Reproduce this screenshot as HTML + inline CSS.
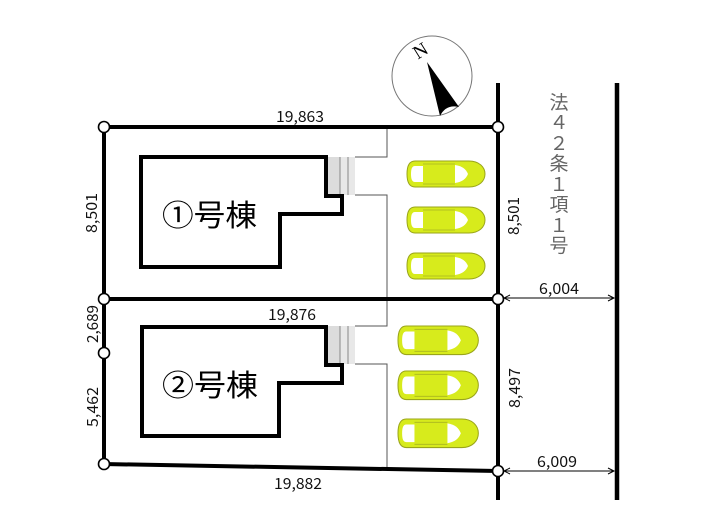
<!DOCTYPE html>
<html><head><meta charset="utf-8"><style>
html,body{margin:0;padding:0;background:#fff;}
svg{display:block;}
.d{font-family:"Noto Sans CJK JP","Liberation Sans",sans-serif;font-size:15px;fill:#111;}
</style></head><body>
<svg width="705" height="525" viewBox="0 0 705 525" xmlns="http://www.w3.org/2000/svg">
<rect width="705" height="525" fill="#fff"/>
<!-- compass -->
<circle cx="432" cy="76" r="40" fill="#fff" stroke="#777" stroke-width="1"/>
<path d="M427,62 L459,107 Q446,104 440,116 Z" fill="#000"/>
<text x="420" y="57" font-family="Liberation Serif, serif" font-size="19" fill="#000" text-anchor="middle" transform="rotate(-32 420 50)">N</text>

<!-- thin driveway lines -->
<g stroke="#555" stroke-width="1" fill="none">
<polyline points="387,127 387,157 355,157"/>
<polyline points="355,195 387,195 387,298"/>
<polyline points="387,298 387,326 355,326"/>
<polyline points="355,364 387,364 387,467"/>
</g>
<!-- stairs -->
<g>
<rect x="327" y="157" width="28" height="38" fill="#dcdcdc"/>
<rect x="340" y="157" width="15" height="38" fill="#e8e8e8"/>
<line x1="340" y1="157" x2="340" y2="195" stroke="#888" stroke-width="1"/>
<line x1="348" y1="157" x2="348" y2="195" stroke="#888" stroke-width="1"/>
<rect x="327" y="326" width="28" height="38" fill="#dcdcdc"/>
<rect x="340" y="326" width="15" height="38" fill="#e8e8e8"/>
<line x1="340" y1="326" x2="340" y2="364" stroke="#888" stroke-width="1"/>
<line x1="348" y1="326" x2="348" y2="364" stroke="#888" stroke-width="1"/>
</g>

<!-- buildings -->
<g stroke="#000" stroke-width="4" fill="none" stroke-linejoin="miter">
<path d="M141,157 H326 V196 H342 V214 H280 V267 H141 Z"/>
<path d="M142,327 H326 V365 H342 V383 H279 V436 H142 Z"/>
</g>
<text x="162" y="226" font-family="Noto Sans CJK JP, sans-serif" font-size="30" fill="#000" textLength="95" lengthAdjust="spacingAndGlyphs">①号棟</text>
<text x="162" y="396" font-family="Noto Sans CJK JP, sans-serif" font-size="30" fill="#000" textLength="96" lengthAdjust="spacingAndGlyphs">②号棟</text>

<!-- lot boundaries -->
<g stroke="#000" stroke-width="4" fill="none">
<line x1="103" y1="127" x2="498" y2="127"/>
<line x1="104" y1="127" x2="104" y2="464"/>
<line x1="103" y1="299" x2="498" y2="299"/>
<line x1="103" y1="464" x2="498" y2="471"/>
<line x1="498" y1="83" x2="498" y2="500"/>
<line x1="617" y1="83" x2="617" y2="500" stroke-width="4.5"/>
</g>

<!-- dimension arrows -->
<g stroke="#000" stroke-width="1" fill="none">
<line x1="504" y1="298" x2="614" y2="298"/>
<polyline points="510,295 504,298 510,301"/>
<polyline points="608,295 614,298 608,301"/>
<line x1="504" y1="471" x2="614" y2="471"/>
<polyline points="510,468 504,471 510,474"/>
<polyline points="608,468 614,471 608,474"/>
</g>

<!-- corner circles -->
<g fill="#fff" stroke="#000" stroke-width="1.6">
<circle cx="104" cy="127" r="5.5"/>
<circle cx="498" cy="127" r="5.5"/>
<circle cx="104" cy="299" r="5.5"/>
<circle cx="498" cy="299" r="5.5"/>
<circle cx="104" cy="353" r="5.5"/>
<circle cx="104" cy="464" r="5.5"/>
<circle cx="498" cy="471" r="5.5"/>
</g>

<!-- dimension labels -->
<text class="d" x="276" y="122" textLength="48" lengthAdjust="spacingAndGlyphs">19,863</text>
<text class="d" x="268" y="320" textLength="48" lengthAdjust="spacingAndGlyphs">19,876</text>
<text class="d" x="274" y="489" textLength="48" lengthAdjust="spacingAndGlyphs">19,882</text>
<text class="d" x="539" y="294" textLength="40" lengthAdjust="spacingAndGlyphs">6,004</text>
<text class="d" x="537" y="467" textLength="40" lengthAdjust="spacingAndGlyphs">6,009</text>
<text class="d" transform="translate(97,233) rotate(-90)" textLength="40" lengthAdjust="spacingAndGlyphs">8,501</text>
<text class="d" transform="translate(98,343) rotate(-90)" textLength="38" lengthAdjust="spacingAndGlyphs">2,689</text>
<text class="d" transform="translate(98,427) rotate(-90)" textLength="40" lengthAdjust="spacingAndGlyphs">5,462</text>
<text class="d" transform="translate(519,235) rotate(-90)" textLength="38" lengthAdjust="spacingAndGlyphs">8,501</text>
<text class="d" transform="translate(520,408) rotate(-90)" textLength="40" lengthAdjust="spacingAndGlyphs">8,497</text>

<!-- road label vertical -->
<g font-family="Noto Sans CJK JP, sans-serif" font-size="19" fill="#666" text-anchor="middle">
<text x="559" y="109">法</text>
<text x="559" y="129">４</text>
<text x="559" y="150">２</text>
<text x="559" y="170">条</text>
<text x="559" y="191">１</text>
<text x="559" y="211">項</text>
<text x="559" y="232">１</text>
<text x="559" y="252">号</text>
</g>

<!-- cars -->
<g>
<g transform="translate(407,161)">
<path d="M8,0 H62 C72,0 78,6 78,13 C78,20 72,26 62,26 H8 C3,26 0,22 0,13 C0,4 3,0 8,0 Z" fill="#d7eb1c" stroke="#9aa51a" stroke-width="1"/>
<path d="M8,5 H16 V21 H8 C5,21 4,18 4,13 C4,8 5,5 8,5 Z" fill="#fff"/>
<path d="M48,4 C55,5 59,8 61,13 C59,18 55,21 48,22 Z" fill="#fff"/>
<path d="M16,3 H48 M16,23 H48" stroke="#a8b420" stroke-width="0.8"/>
</g>
<g transform="translate(407,207)">
<path d="M8,0 H62 C72,0 78,6 78,13 C78,20 72,26 62,26 H8 C3,26 0,22 0,13 C0,4 3,0 8,0 Z" fill="#d7eb1c" stroke="#9aa51a" stroke-width="1"/>
<path d="M8,5 H16 V21 H8 C5,21 4,18 4,13 C4,8 5,5 8,5 Z" fill="#fff"/>
<path d="M48,4 C55,5 59,8 61,13 C59,18 55,21 48,22 Z" fill="#fff"/>
<path d="M16,3 H48 M16,23 H48" stroke="#a8b420" stroke-width="0.8"/>
</g>
<g transform="translate(407,253)">
<path d="M8,0 H62 C72,0 78,6 78,13 C78,20 72,26 62,26 H8 C3,26 0,22 0,13 C0,4 3,0 8,0 Z" fill="#d7eb1c" stroke="#9aa51a" stroke-width="1"/>
<path d="M8,5 H16 V21 H8 C5,21 4,18 4,13 C4,8 5,5 8,5 Z" fill="#fff"/>
<path d="M48,4 C55,5 59,8 61,13 C59,18 55,21 48,22 Z" fill="#fff"/>
<path d="M16,3 H48 M16,23 H48" stroke="#a8b420" stroke-width="0.8"/>
</g>
<g transform="translate(398,326) scale(1.03,1.1)">
<path d="M8,0 H62 C72,0 78,6 78,13 C78,20 72,26 62,26 H8 C3,26 0,22 0,13 C0,4 3,0 8,0 Z" fill="#d7eb1c" stroke="#9aa51a" stroke-width="1"/>
<path d="M8,5 H16 V21 H8 C5,21 4,18 4,13 C4,8 5,5 8,5 Z" fill="#fff"/>
<path d="M48,4 C55,5 59,8 61,13 C59,18 55,21 48,22 Z" fill="#fff"/>
<path d="M16,3 H48 M16,23 H48" stroke="#a8b420" stroke-width="0.8"/>
</g>
<g transform="translate(398,371) scale(1.03,1.1)">
<path d="M8,0 H62 C72,0 78,6 78,13 C78,20 72,26 62,26 H8 C3,26 0,22 0,13 C0,4 3,0 8,0 Z" fill="#d7eb1c" stroke="#9aa51a" stroke-width="1"/>
<path d="M8,5 H16 V21 H8 C5,21 4,18 4,13 C4,8 5,5 8,5 Z" fill="#fff"/>
<path d="M48,4 C55,5 59,8 61,13 C59,18 55,21 48,22 Z" fill="#fff"/>
<path d="M16,3 H48 M16,23 H48" stroke="#a8b420" stroke-width="0.8"/>
</g>
<g transform="translate(398,419) scale(1.03,1.1)">
<path d="M8,0 H62 C72,0 78,6 78,13 C78,20 72,26 62,26 H8 C3,26 0,22 0,13 C0,4 3,0 8,0 Z" fill="#d7eb1c" stroke="#9aa51a" stroke-width="1"/>
<path d="M8,5 H16 V21 H8 C5,21 4,18 4,13 C4,8 5,5 8,5 Z" fill="#fff"/>
<path d="M48,4 C55,5 59,8 61,13 C59,18 55,21 48,22 Z" fill="#fff"/>
<path d="M16,3 H48 M16,23 H48" stroke="#a8b420" stroke-width="0.8"/>
</g>
</g>
</svg>
</body></html>
